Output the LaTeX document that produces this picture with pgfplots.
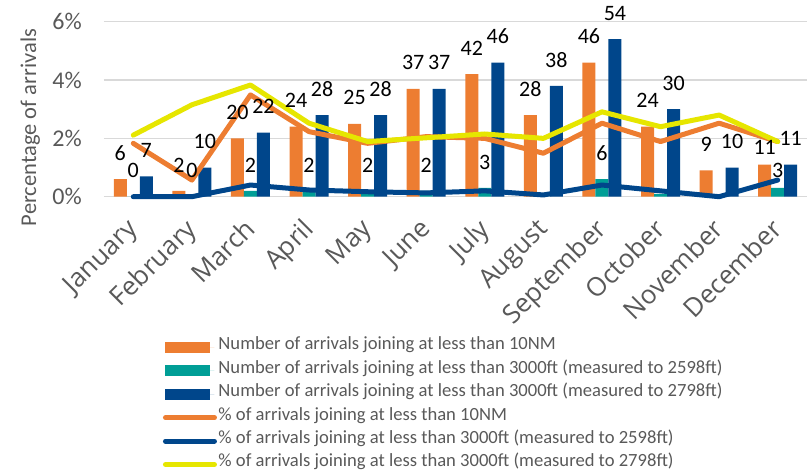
\documentclass[border=0pt]{standalone}
\usepackage{pgfplots}
\pgfplotsset{compat=1.18}
\usepackage{pgfplotstable}
\usepackage{fontspec}
\setmainfont{Carlito}
\newfontfamily\opensans{Open Sans}
\definecolor{corange}{HTML}{ED7D31}
\definecolor{cteal}{HTML}{009E96}
\definecolor{cblue}{HTML}{00468B}
\definecolor{cyellow}{HTML}{E6E600}
\definecolor{cgray}{HTML}{595959}
\definecolor{cgrid}{HTML}{D9D9D9}

% x: month index; o: arrivals <10NM; t: <3000ft (2598ft); b: <3000ft (2798ft)
% po, pb, py: percentages (lines)
\pgfplotstableread{
x o t b po pb py
0 6 0 7 1.83 0.00 2.11
1 2 0 10 0.57 0.00 3.15
2 20 2 22 3.49 0.40 3.83
3 24 2 28 2.23 0.23 2.52
4 25 2 28 1.83 0.17 1.89
5 37 2 37 2.06 0.13 2.02
6 42 3 46 2.00 0.20 2.15
7 28 0 38 1.49 0.06 2.00
8 46 6 54 2.52 0.40 2.91
9 24 1 30 1.89 0.20 2.40
10 9 0 10 2.52 0.00 2.80
11 11 3 11 1.89 0.57 1.89
}\data

\pgfplotstableread{
x t
0 0
1 0
2 2
3 2
4 2
5 2
6 3
8 6
11 3
}\tlab

\begin{document}
\begin{tikzpicture}
\useasboundingbox (0,0) rectangle (807pt,471pt);
\begin{axis}[
  at={(104pt,274.3pt)}, anchor=south west,
  scale only axis, width=703pt, height=175pt,
  xmin=-0.5, xmax=11.5, ymin=0, ymax=6,
  clip=false,
  axis line style={draw=none},
  tick style={draw=none},
  /pgf/number format/assume math mode=true,
  ymajorgrids, grid style={cgrid, line width=1.5pt},
  ytick={0,2,4,6}, yticklabels={0\%,2\%,4\%,6\%},
  yticklabel style={font=\fontsize{24}{24}\selectfont, text=cgray, anchor=east, inner sep=0pt, xshift=-22pt},
  xtick={0,...,11},
  xticklabels={January,February,March,April,May,June,July,August,September,October,November,December},
  xticklabel style={font=\opensans\fontsize{26}{26}\selectfont, text=cgray, inner sep=0pt, xshift=-8pt, yshift=-20pt, rotate=45, anchor=north east},
  legend style={at={(axis description cs:0.0839,-0.795)}, anchor=north west,
    draw=none, fill=none, inner sep=0pt, outer sep=0pt,
    font=\fontsize{18.6}{18.6}\selectfont, text=cgray,
    row sep=0pt,
    nodes={inner xsep=1.5pt, inner ysep=0pt, text height=14pt, text depth=9.4pt}},
  legend cell align=left,
  every node near coord/.append style={font=\fontsize{22}{22}\selectfont, text=black, anchor=center, inner sep=0pt},
]
% bars
\addplot[ybar, bar width=13pt, bar shift=-13pt, fill=corange, draw=none,
  legend image code/.code={\fill[corange] (0pt,-5.5pt) rectangle (45pt,5.5pt); \path (0pt,0pt) -- (49pt,0pt);}]
  table[x=x, y expr=\thisrow{o}/10] {\data};
\addlegendentry{Number of arrivals joining at less than 10NM}
\addplot[ybar, bar width=13pt, bar shift=0pt, fill=cteal, draw=none,
  legend image code/.code={\fill[cteal] (0pt,-5.5pt) rectangle (45pt,5.5pt); \path (0pt,0pt) -- (49pt,0pt);}]
  table[x=x, y expr=\thisrow{t}/10] {\data};
\addlegendentry{Number of arrivals joining at less than 3000ft (measured to 2598ft)}
\addplot[ybar, bar width=13pt, bar shift=13pt, fill=cblue, draw=none,
  legend image code/.code={\fill[cblue] (0pt,-5.5pt) rectangle (45pt,5.5pt); \path (0pt,0pt) -- (49pt,0pt);}]
  table[x=x, y expr=\thisrow{b}/10] {\data};
\addlegendentry{Number of arrivals joining at less than 3000ft (measured to 2798ft)}
% lines
\addplot[corange, line width=5pt, line join=round, line cap=round, mark=none,
  legend image code/.code={\draw[corange, line width=5pt, line cap=round] (2.5pt,0pt) -- (46.5pt,0pt); \path (0pt,0pt) -- (49pt,0pt);}]
  table[x=x, y=po] {\data};
\addlegendentry{\% of arrivals joining at less than 10NM}
\addplot[cblue, line width=5pt, line join=round, line cap=round, mark=none,
  legend image code/.code={\draw[cblue, line width=5pt, line cap=round] (2.5pt,0pt) -- (46.5pt,0pt); \path (0pt,0pt) -- (49pt,0pt);}]
  table[x=x, y=pb] {\data};
\addlegendentry{\% of arrivals joining at less than 3000ft (measured to 2598ft)}
\addplot[cyellow, line width=5pt, line join=round, line cap=round, mark=none,
  legend image code/.code={\draw[cyellow, line width=5pt, line cap=round] (2.5pt,0pt) -- (46.5pt,0pt); \path (0pt,0pt) -- (49pt,0pt);}]
  table[x=x, y=py] {\data};
\addlegendentry{\% of arrivals joining at less than 3000ft (measured to 2798ft)}
% data labels
\addplot[draw=none, mark=none, forget plot, nodes near coords, point meta=explicit,
  restrict x to domain=0:10,
  every node near coord/.append style={xshift=-13pt, yshift=26pt}]
  table[x=x, y expr=\thisrow{o}/10, meta=o] {\data};
\addplot[draw=none, mark=none, forget plot, nodes near coords, point meta=explicit,
  restrict x to domain=10.5:11.5,
  every node near coord/.append style={xshift=-13pt, yshift=17pt}]
  table[x=x, y expr=\thisrow{o}/10, meta=o] {\data};
\addplot[draw=none, mark=none, forget plot, nodes near coords, point meta=explicit,
  restrict x to domain=0:10,
  every node near coord/.append style={xshift=0pt, yshift=26pt}]
  table[x=x, y expr=\thisrow{t}/10, meta=t] {\tlab};
\addplot[draw=none, mark=none, forget plot, nodes near coords, point meta=explicit,
  restrict x to domain=10.5:11.5,
  every node near coord/.append style={xshift=0pt, yshift=18pt}]
  table[x=x, y expr=\thisrow{t}/10, meta=t] {\tlab};
\addplot[draw=none, mark=none, forget plot, nodes near coords, point meta=explicit,
  every node near coord/.append style={xshift=13pt, yshift=26pt}]
  table[x=x, y expr=\thisrow{b}/10, meta=b] {\data};
\node[rotate=90, font=\fontsize{22.5}{22.5}\selectfont, text=cgray, anchor=center]
  at (axis description cs:-0.105,0.395) {Percentage of arrivals};
\end{axis}
\end{tikzpicture}
\end{document}
